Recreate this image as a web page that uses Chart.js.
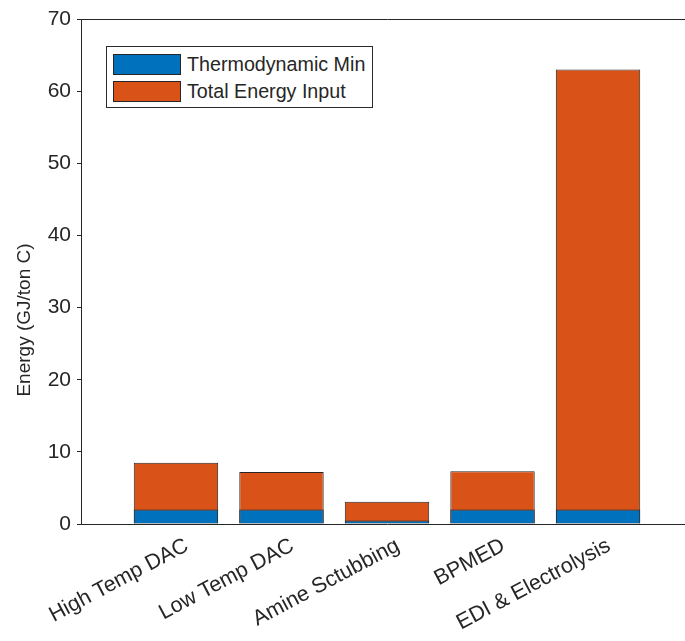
<!DOCTYPE html>
<html>
<head>
<meta charset="utf-8">
<script src="https://cdn.jsdelivr.net/npm/chart.js@4.4.0/dist/chart.umd.min.js"></script>
<style>
  html, body { margin: 0; padding: 0; background: #fff; overflow: hidden; }
  #wrap { position: relative; width: 700px; height: 641px; }
  #legend {
    position: absolute; left: 106px; top: 46px; width: 265px; height: 60px;
    border: 1px solid #2b2b2b; background: #fff;
    font-family: "Liberation Sans", Arial, sans-serif; font-size: 19.7px; color: #262626;
  }
  .item { position: absolute; left: 6px; height: 21px; display: flex; align-items: center; }
  .swatch { width: 66px; height: 19px; border: 1px solid #262626; margin-right: 6px; }
</style>
</head>
<body>
<div id="wrap">
  <canvas id="barChart" width="700" height="641"></canvas>
  <div id="legend"></div>
</div>
<script>
// data
const categories = ['High Temp DAC', 'Low Temp DAC', 'Amine Sctubbing', 'BPMED', 'EDI & Electrolysis'];
const thermoMin = [2.0, 2.0, 0.5, 2.0, 2.0];
const totalEnergy = [8.5, 7.2, 3.1, 7.3, 63.0];
const yTicks = [0, 10, 20, 30, 40, 50, 60, 70];
const yTitle = 'Energy (GJ/ton C)';

const blue = '#0072BD';
const orange = '#D95319';
const ink = '#262626';
const font = "'Liberation Sans', Arial, sans-serif";

function points(values) {
  return values.map(function(v, i) { return { x: i + 1, y: v }; });
}

// y label sits a bit below the middle of the axis, like the original
const yTitlePlugin = {
  id: 'yTitle',
  afterDraw: function(chart) {
    const c = chart.ctx;
    const area = chart.chartArea;
    c.save();
    c.translate(25, area.bottom - 204);
    c.rotate(-Math.PI / 2);
    c.fillStyle = ink;
    c.font = '19px ' + font;
    c.textAlign = 'center';
    c.textBaseline = 'middle';
    c.fillText(yTitle, 0, 0);
    c.restore();
  }
};

const ctx = document.getElementById('barChart').getContext('2d');
const myChart = new Chart(ctx, {
  type: 'bar',
  data: {
    datasets: [{
      label: 'Thermodynamic Min',
      data: points(thermoMin),
      backgroundColor: blue,
      borderColor: ink,
      borderWidth: 1,
      grouped: false,
      categoryPercentage: 1,
      barPercentage: 0.8
    }, {
      label: 'Total Energy Input',
      data: points(totalEnergy),
      backgroundColor: orange,
      borderColor: ink,
      borderWidth: 1,
      grouped: false,
      categoryPercentage: 1,
      barPercentage: 0.8
    }]
  },
  plugins: [yTitlePlugin],
  options: {
    responsive: false,
    animation: false,
    layout: { padding: { top: 19, right: 7, left: 0, bottom: 0 } },
    plugins: {
      legend: { display: false },
      tooltip: { enabled: false }
    },
    scales: {
      x: {
        type: 'linear',
        position: 'bottom',
        offset: false,
        min: 0.1,
        max: 5.9,
        afterBuildTicks: function(axis) {
          axis.ticks = categories.map(function(c, i) { return { value: i + 1 }; });
        },
        afterFit: function(axis) { axis.height = 117; },
        ticks: {
          autoSkip: false,
          minRotation: 28,
          maxRotation: 28,
          padding: 9,
          labelOffset: 11,
          color: ink,
          font: { family: font, size: 21.5 },
          callback: function(v) { return categories[v - 1]; }
        },
        grid: { display: false, drawTicks: false },
        border: { display: true, color: ink, width: 1 }
      },
      xTop: {
        type: 'linear',
        position: 'top',
        offset: false,
        min: 0.1,
        max: 5.9,
        afterFit: function(axis) { axis.height = 0; },
        ticks: { display: false },
        grid: { display: false, drawTicks: false },
        border: { display: true, color: ink, width: 1 }
      },
      y: {
        min: 0,
        max: 70,
        afterBuildTicks: function(axis) {
          axis.ticks = yTicks.map(function(v) { return { value: v }; });
        },
        afterFit: function(axis) { axis.width = 81; },
        ticks: {
          padding: 6,
          color: ink,
          font: { family: font, size: 21 }
        },
        grid: { display: true, drawOnChartArea: false, drawTicks: true, tickLength: 4, color: ink },
        border: { display: true, color: ink, width: 1 }
      }
    }
  }
});

// legend box in the upper left of the plot, built from the datasets
const legendBox = document.getElementById('legend');
myChart.data.datasets.forEach(function(ds, i) {
  const item = document.createElement('div');
  item.className = 'item';
  item.style.top = (7 + i * 27) + 'px';
  item.innerHTML = '<span class="swatch" style="background:' + ds.backgroundColor + '"></span>' + ds.label;
  legendBox.appendChild(item);
});
</script>
</body>
</html>
